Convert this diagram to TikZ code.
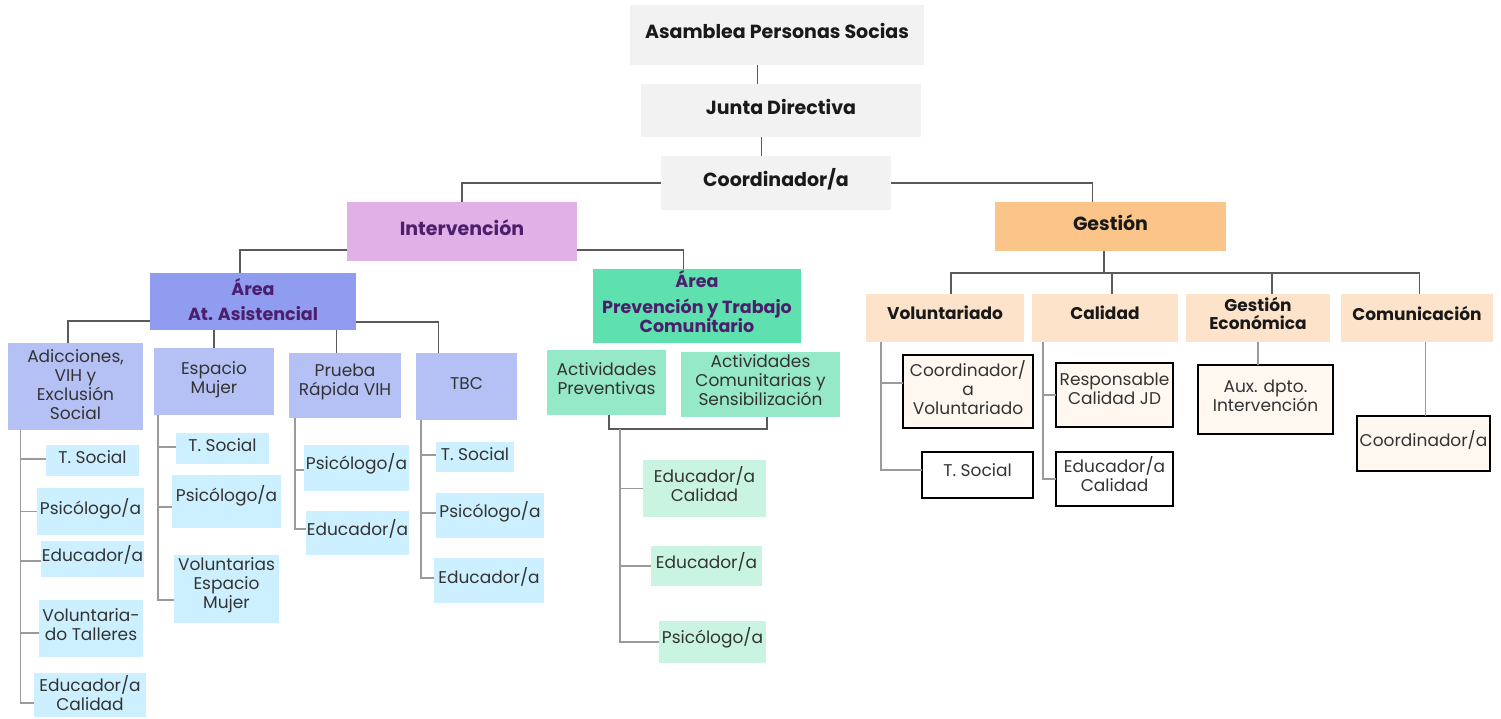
\documentclass[tikz,border=0pt]{standalone}
\usepackage{fontspec}
\setmainfont{Poppins}
\usetikzlibrary{calc}
\definecolor{cGray}{HTML}{F2F2F2}
\definecolor{cInt}{HTML}{E1B0E6}
\definecolor{cPur}{HTML}{4B1F6B}
\definecolor{cGes}{HTML}{FBC58A}
\definecolor{cAat}{HTML}{8F9CF0}
\definecolor{cApr}{HTML}{5FE0AF}
\definecolor{cL3}{HTML}{B5C1F5}
\definecolor{cCy}{HTML}{CCF0FF}
\definecolor{cAct}{HTML}{95E8C8}
\definecolor{cMint}{HTML}{C9F4E2}
\definecolor{cPea}{HTML}{FDE3C9}
\definecolor{cCre}{HTML}{FEF8F1}
\definecolor{cTxt}{HTML}{333333}
\definecolor{cLine}{HTML}{9A9A9A}
\definecolor{cDark}{HTML}{5A5A5A}
% #1 name, #2 box style, #3 text style, #4-#7 corners (x1,y1,x2,y2), #8 text
\newcommand\bx[8]{%
  \node[box,#2, minimum width={(#6)-(#4)}, minimum height={(#7)-(#5)}] (#1) at ({((#4)+(#6))/2},{((#5)+(#7))/2}) {};
  \node[tx,#3] (#1-t) at (#1.center) {#8};}
\begin{document}
\begin{tikzpicture}[x=1pt,y=-1pt,
  box/.style={inner sep=0pt, outer sep=0pt},
  tx/.style={inner sep=0pt, align=center, yshift=4pt},
  rt/.style={font=\fontsize{17}{19}\selectfont, text=cTxt},
  bt/.style={font=\bfseries\fontsize{19}{21}\selectfont, text=black!90},
  areatxt/.style={font=\bfseries\fontsize{17.5}{19}\selectfont, text=cPur},
  pt/.style={font=\bfseries\fontsize{17}{18}\selectfont, text=black!90},
  gbox/.style={fill=cGray},
  l3/.style={fill=cL3},
  cy/.style={fill=cCy},
  mint/.style={fill=cMint},
  peach/.style={fill=cPea},
  ob/.style={fill=cCre, draw=black, line width=1.3pt},
  cn/.style={draw=cLine, line width=1.4pt},
  dk/.style={draw=cDark, line width=1.4pt}]
\useasboundingbox (0,0) rectangle (1501,718);
\fill[white] (0,0) rectangle (1501,718);
% top
\bx{asam}{gbox}{bt}{630}{5}{924}{65}{Asamblea Personas Socias}
\bx{junta}{gbox}{bt}{641}{84}{921}{137}{Junta Directiva}
\bx{coord}{gbox}{bt}{661}{156}{891}{210}{Coordinador/a}
\bx{interv}{fill=cInt}{bt,text=cPur}{347}{202}{577}{261}{Intervención}
\bx{gest}{fill=cGes}{bt}{995}{202}{1226}{251}{Gestión}
\bx{aat}{fill=cAat}{areatxt,yshift=-2pt}{150}{273}{356}{330}{Área\\[6pt]At. Asistencial}
\bx{aprev}{fill=cApr}{areatxt}{593}{269}{801}{343}{Área\\[7pt]Prevención y Trabajo\\Comunitario}
% level 3 left
\bx{adic}{l3}{rt,yshift=-2pt}{8}{343}{143}{430}{Adicciones,\\VIH y\\Exclusión\\Social}
\bx{esp}{l3}{rt,yshift=-2.5pt}{154}{348}{274}{415}{Espacio\\Mujer}
\bx{prb}{l3}{rt}{289}{353}{401}{418}{Prueba\\Rápida VIH}
\bx{tbc}{l3}{rt,yshift=-1pt}{416}{353}{517}{420}{TBC}
% cyan
\bx{a1}{cy}{rt,yshift=-1pt}{46}{445}{139}{476}{T. Social}
\bx{a2}{cy}{rt,yshift=-1pt}{37}{488}{144}{535}{Psicólogo/a}
\bx{a3}{cy}{rt}{41}{541}{144}{577}{Educador/a}
\bx{a4}{cy}{rt}{39}{600}{143}{657}{Voluntaria-\\do Talleres}
\bx{a5}{cy}{rt,yshift=-2pt}{34}{673}{146}{717}{Educador/a\\Calidad}
\bx{e1}{cy}{rt,yshift=-1pt}{176}{433}{269}{464}{T. Social}
\bx{e2}{cy}{rt,yshift=2pt}{172}{475}{281}{528}{Psicólogo/a}
\bx{e3}{cy}{rt}{174}{555}{279}{623}{Voluntarias\\Espacio\\Mujer}
\bx{p1}{cy}{rt}{304}{445}{409}{491}{Psicólogo/a}
\bx{p2}{cy}{rt}{306}{511}{409}{555}{Educador/a}
\bx{t1}{cy}{rt,yshift=-1pt}{436}{442}{514}{472}{T. Social}
\bx{t2}{cy}{rt}{436}{493}{544}{538}{Psicólogo/a}
\bx{t3}{cy}{rt}{434}{558}{544}{603}{Educador/a}
% green
\bx{ap}{fill=cAct}{rt}{547}{350}{666}{415}{Actividades\\Preventivas}
\bx{ac}{fill=cAct}{rt}{681}{352}{840}{417}{Actividades\\Comunitarias y\\Sensibilización}
\bx{m1}{mint}{rt}{643}{460}{766}{517}{Educador/a\\Calidad}
\bx{m2}{mint}{rt}{651}{546}{762}{586}{Educador/a}
\bx{m3}{mint}{rt}{659}{621}{766}{663}{Psicólogo/a}
% gestion
\bx{vol}{peach}{pt,yshift=1pt}{866}{294}{1024}{342}{Voluntariado}
\bx{cal}{peach}{pt,yshift=1pt}{1032}{294}{1178}{342}{Calidad}
\bx{gec}{peach}{pt,yshift=1pt}{1186}{294}{1330}{342}{Gestión\\Económica}
\bx{com}{peach}{pt,yshift=1pt}{1341}{294}{1493}{342}{Comunicación}
\bx{v1}{ob}{rt}{903}{355}{1033}{428}{Coordinador/\\a\\Voluntariado}
\bx{v2}{ob,fill=white}{rt,yshift=1pt}{922}{452}{1033}{498}{T. Social}
\bx{c1}{ob}{rt,yshift=2pt}{1056}{363}{1173}{427}{Responsable\\Calidad JD}
\bx{c2}{ob,fill=white}{rt,yshift=1pt}{1056}{452}{1173}{506}{Educador/a\\Calidad}
\bx{g1}{ob}{rt}{1198}{365}{1333}{434}{Aux. dpto.\\Intervención}
\bx{k1}{ob}{rt}{1357}{416}{1490}{471}{Coordinador/a}
% connectors top
\draw[dk] ($(asam.south)+(-19.5,0)$) coordinate (q1) -- (q1 |- junta.north);
\draw[dk] ($(junta.south)+(-19.5,0)$) coordinate (q2) -- (q2 |- coord.north);
\draw[dk] (coord.west) -| (interv.north);
\draw[dk] (coord.east) -| ($(gest.north)+(-18,0)$);
\draw[dk] ($(interv.south west)+(0,-11)$) -| ($(aat.north)+(-13,0)$);
\draw[dk] ($(interv.south east)+(0,-11)$) -| ($(aprev.north)+(-13.5,0)$);
\draw[dk] ($(aat.south west)+(0,-9)$) -| ($(adic.north)+(-7.5,0)$);
\draw[dk] (esp.north) -- (esp.north |- aat.south);
\draw[dk] ($(prb.north)+(-8.5,0)$) coordinate (q3) -- (q3 |- aat.south);
\draw[dk] ($(aat.south east)+(0,-8)$) -| ($(tbc.north)+(-28,0)$);
% spines left
\coordinate (sa) at ($(adic.south west)+(12.5,0)$);
\draw[cn] (sa) |- ($(a1.west)+(0,-1.5)$);
\draw[cn] (sa) |- (a2.west);
\draw[cn] (sa) |- ($(a3.west)+(0,2)$);
\draw[cn] (sa) |- ($(a4.west)+(0,4.5)$);
\draw[cn] (sa) |- ($(a5.west)+(0,8)$);
\coordinate (se) at ($(esp.south west)+(4,0)$);
\draw[cn] (se) |- ($(e1.west)+(0,-1.5)$);
\draw[cn] (se) |- ($(e2.west)+(0,5.5)$);
\draw[cn] (se) |- ($(e3.west)+(0,11)$);
\coordinate (sp) at ($(prb.south west)+(6,0)$);
\draw[cn] (sp) |- ($(p1.west)+(0,2)$);
\draw[cn] (sp) |- ($(p2.west)+(0,-4)$);
\coordinate (st) at ($(tbc.south west)+(5,0)$);
\draw[cn] (st) |- ($(t1.west)+(0,-2)$);
\draw[cn] (st) |- ($(t2.west)+(0,-2.5)$);
\draw[cn] (st) |- ($(t3.west)+(0,-2.5)$);
% prevention
\draw[dk] ($(ap.south)+(2.5,0)$) -- ++(0,14) -| ($(ac.south)+(6.5,0)$);
\coordinate (sm) at ($(ap.south)+(13.5,14)$);
\draw[cn] (sm) |- (m1.west);
\draw[cn] (sm) |- (m2.west);
\draw[cn] (sm) |- (m3.west);
% gestion
\draw[dk] ($(gest.south)+(-6.5,0)$) -- ++(0,22);
\draw[dk] ($(vol.north)+(6,0)$) |- ($(com.north)+(2.5,-21)$) -- ($(com.north)+(2.5,0)$);
\draw[dk] ($(cal.north)+(7,0)$) -- ++(0,-21);
\draw[dk] ($(gec.north)+(14,0)$) -- ++(0,-21);
\coordinate (sv) at ($(vol.south west)+(15,0)$);
\draw[cn] (sv) |- ($(v1.west)+(0,-8.5)$);
\draw[cn] (sv) |- ($(v2.west)+(0,-5)$);
\coordinate (sc) at ($(cal.south west)+(11,0)$);
\draw[cn] (sc) |- (c1.west);
\draw[cn] (sc) |- (c2.west);
\draw[cn] (gec.south) -- (gec.south |- g1.north);
\draw[cn] ($(com.south)+(8.5,0)$) coordinate (q4) -- (q4 |- k1.north);
\end{tikzpicture}
\end{document}
